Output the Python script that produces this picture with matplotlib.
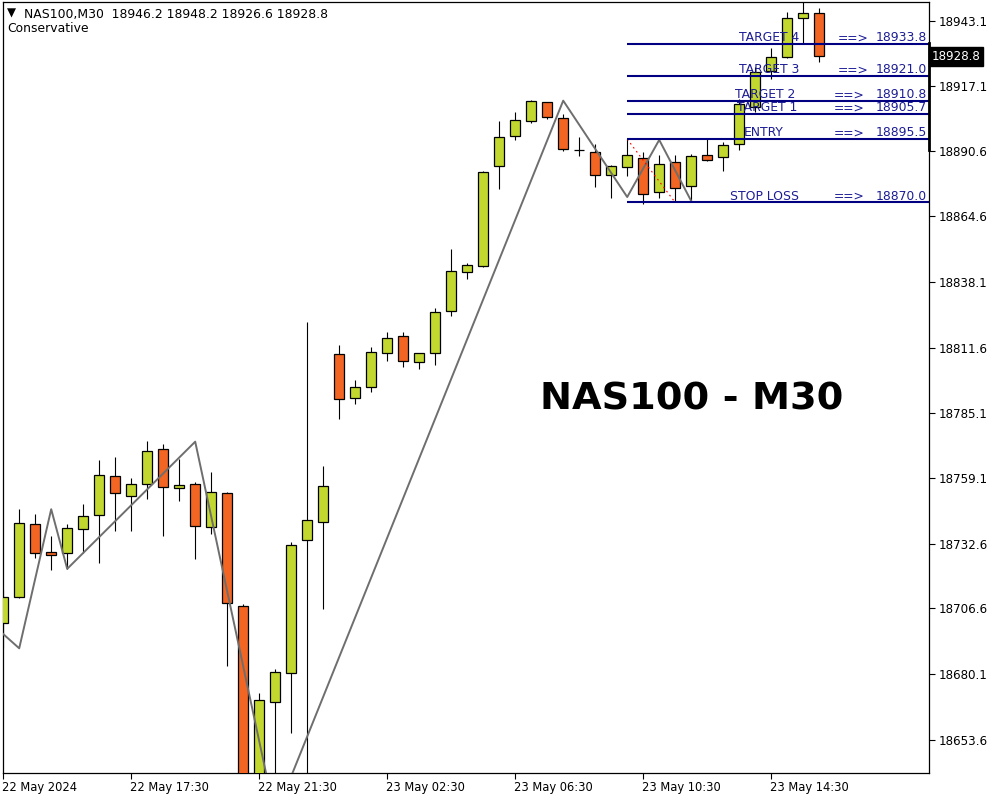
import matplotlib
matplotlib.use("Agg")
import matplotlib.pyplot as plt
import matplotlib.transforms as mtransforms

# ---------------- data ----------------
opens = [18700.6, 18711.1, 18740.5, 18729.2, 18728.8, 18738.4, 18744.1, 18759.8, 18751.7, 18756.6,
         18770.6, 18754.9, 18756.6, 18739.2, 18752.9, 18707.7, 18632.0, 18668.8, 18680.5, 18734.0,
         18741.3, 18808.9, 18791.2, 18795.6, 18809.3, 18816.1, 18805.7, 18809.3, 18826.2, 18841.9,
         18844.3, 18884.6, 18896.7, 18902.7, 18910.4, 18903.9, 18891.2, 18890.2, 18881.0, 18884.2,
         18887.8, 18874.1, 18886.2, 18876.5, 18889.0, 18888.2, 18893.5, 18908.6, 18922.8, 18928.7,
         18944.2, 18946.2]
highs = [18714.0, 18746.6, 18744.6, 18735.7, 18740.5, 18748.6, 18766.3, 18767.5, 18759.1, 18774.0,
         18772.8, 18766.9, 18757.6, 18761.5, 18753.3, 18708.2, 18672.4, 18682.2, 18733.2, 18821.9,
         18763.9, 18812.6, 18798.6, 18811.8, 18817.9, 18817.9, 18809.3, 18827.4, 18851.2, 18845.8,
         18882.5, 18902.8, 18906.5, 18911.3, 18910.6, 18905.7, 18896.3, 18893.5, 18885.0, 18895.5,
         18890.4, 18889.1, 18889.0, 18889.4, 18895.5, 18894.4, 18911.6, 18924.7, 18932.1, 18946.6,
         18950.8, 18948.2]
lows = [18690.5, 18710.8, 18727.0, 18722.1, 18722.5, 18729.0, 18725.0, 18737.9, 18737.9, 18750.6,
        18735.9, 18750.0, 18726.6, 18736.7, 18683.5, 18626.0, 18624.5, 18623.0, 18656.3, 18630.0,
        18706.2, 18783.0, 18788.8, 18793.8, 18806.3, 18803.9, 18803.1, 18804.7, 18824.4, 18839.3,
        18843.9, 18875.6, 18895.2, 18902.1, 18903.8, 18890.9, 18888.6, 18876.4, 18872.0, 18880.8,
        18869.3, 18872.0, 18870.6, 18870.6, 18886.6, 18882.7, 18891.3, 18906.6, 18919.6, 18928.1,
        18934.4, 18926.6]
closes = [18711.1, 18740.9, 18728.8, 18728.0, 18738.8, 18743.7, 18760.2, 18752.9, 18756.6, 18769.8,
          18755.3, 18756.2, 18739.6, 18753.3, 18708.6, 18631.5, 18669.7, 18680.9, 18732.0, 18742.1,
          18755.8, 18790.8, 18795.6, 18809.7, 18815.3, 18806.1, 18809.3, 18825.8, 18842.3, 18844.7,
          18882.2, 18896.3, 18903.1, 18910.8, 18904.3, 18891.4, 18891.2, 18881.0, 18884.6, 18889.0,
          18873.3, 18885.4, 18875.7, 18888.6, 18887.0, 18893.1, 18909.6, 18922.4, 18928.7, 18944.2,
          18946.2, 18928.8]

zigzag_bars = [-1, 1, 3, 4, 12, 17, 35, 39, 41, 43]
zigzag_prices = [18702.0, 18690.5, 18746.5, 18722.5, 18773.7, 18623.0, 18911.0, 18872.2, 18895.2, 18870.6]

level_names = ["TARGET 4", "TARGET 3", "TARGET 2", "TARGET 1", "ENTRY", "STOP LOSS"]
level_values = [18933.8, 18921.0, 18910.8, 18905.7, 18895.5, 18870.0]
level_start_bar = 39

risk_bars = [39, 42]
risk_prices = [18895.5, 18870.0]

ytick_values = [18943.1, 18917.1, 18890.6, 18864.6, 18838.1, 18811.6, 18785.1,
                18759.1, 18732.6, 18706.6, 18680.1, 18653.6]
xtick_bars = [0, 8, 16, 24, 32, 40, 48]
xtick_labels = ["22 May 2024", "22 May 17:30", "22 May 21:30", "23 May 02:30",
                "23 May 06:30", "23 May 10:30", "23 May 14:30"]

symbol = "NAS100,M30"
last_price = 18928.8
range_marker = [18934.1, 18891.2]

# ---------------- style ----------------
W, H = 1000, 800
GREEN = "#C2D82F"
ORANGE = "#F26522"
NAVY = "#000080"
LABEL = "#1C1C96"
ZZ = "#6E6E6E"

fig = plt.figure(figsize=(10, 8), dpi=100)
ax_l, ax_r, ax_t, ax_b = 2.5, 928.5, 2.3, 773.0
ax = fig.add_axes([ax_l / W, 1 - ax_b / H, (ax_r - ax_l) / W, (ax_b - ax_t) / H])
ax.set_xlim(-0.044, 57.83)
ax.set_ylim(18640.3, 18950.6)

for s in ax.spines.values():
    s.set_color("black")
    s.set_linewidth(0.9)

n = len(opens)
xs = list(range(n))

# wicks
ax.vlines(xs, lows, highs, color="black", linewidth=0.8, zorder=2)
# bodies
bottoms = [min(o, c) for o, c in zip(opens, closes)]
heights = [abs(c - o) for o, c in zip(opens, closes)]
colors = [GREEN if c > o else (ORANGE if c < o else "black") for o, c in zip(opens, closes)]
ax.bar(xs, heights, bottom=bottoms, width=0.64, color=colors, edgecolor="black",
       linewidth=0.9, zorder=3)

# zigzag
ax.plot(zigzag_bars, zigzag_prices, color=ZZ, linewidth=1.4, zorder=4)

# red dotted risk line
ax.plot(risk_bars, risk_prices, color="red", linewidth=0.8, linestyle=(0, (1.5, 3)), zorder=5)

# level lines
ax.hlines(level_values, level_start_bar, 57.83, color=NAVY, linewidth=1.5, zorder=6)

label_px = [739, 739, 735, 737, 744, 730]
arrow_px = [837.5, 837.5, 833.5, 833.5, 833.5, 833.5]
value_px = 926.5
def px2bar(px):
    return (px - 3.2) / 16.0
for name, val, lp, ap in zip(level_names, level_values, label_px, arrow_px):
    yv = val + 1.1
    ax.text(px2bar(lp), yv, name, color=LABEL, fontsize=8.9,
            ha="left", va="baseline", zorder=7)
    ax.text(px2bar(ap), yv, "==>", color=LABEL, fontsize=8.9,
            ha="left", va="baseline", zorder=7)
    ax.text(px2bar(value_px), yv, f"{val:.1f}", color=LABEL, fontsize=8.9,
            ha="right", va="baseline", zorder=7)

# axes ticks
ax.yaxis.tick_right()
ax.set_yticks(ytick_values)
ax.set_yticklabels([f"{v:.1f}" for v in ytick_values])
ax.tick_params(axis="y", direction="out", length=4, width=0.8, pad=3,
               labelsize=8.6, colors="black")
ax.set_xticks(xtick_bars)
ax.set_xticklabels(xtick_labels, ha="left")
ax.tick_params(axis="x", direction="out", length=4, width=0.8, pad=2,
               labelsize=8.3, colors="black")
offset = mtransforms.ScaledTranslation(-1.5 / 100, 0, fig.dpi_scale_trans)
for lbl in ax.get_xticklabels():
    lbl.set_transform(lbl.get_transform() + offset)

# current price box
bt = mtransforms.blended_transform_factory(ax.transAxes, ax.transData)
ax.text((932 - ax_l) / (ax_r - ax_l), last_price, f"{last_price:.1f}", transform=bt,
        color="white", fontsize=8.6, ha="left", va="center", zorder=10,
        bbox=dict(boxstyle="square,pad=0.22", fc="black", ec="black"), clip_on=False)
ax.plot([1.001, 1.001], range_marker, transform=bt, color="black", linewidth=2.0,
        clip_on=False, zorder=10)

# header
fig.text(6.5 / W, 1 - 17.0 / H, "\u25BC", fontsize=8.5, color="black", ha="left", va="baseline")
fig.text(24 / W, 1 - 18.3 / H,
         f"{symbol}  {opens[-1]:.1f} {highs[-1]:.1f} {lows[-1]:.1f} {closes[-1]:.1f}",
         fontsize=8.9, color="black", ha="left", va="baseline")
fig.text(7 / W, 1 - 32.0 / H, "Conservative", fontsize=8.9, color="black",
         ha="left", va="baseline")

# title
fig.text(691.7 / W, 1 - 409.3 / H, "NAS100 - M30", fontsize=27.5, fontweight="bold",
         family="DejaVu Sans", color="black", ha="center", va="baseline")

fig.savefig("out.png", dpi=100)
